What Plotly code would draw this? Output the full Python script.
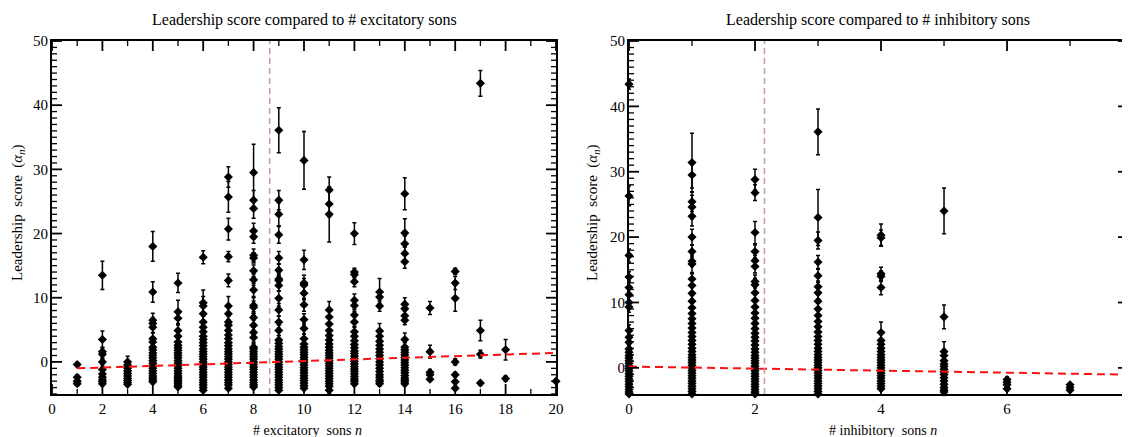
import math
import plotly.graph_objects as go

# ---------------- data: (alpha_n, error) per number of sons ----------------
exc_sons = [1, 2, 3, 4, 5, 6, 7, 8, 9, 10, 11, 12, 13, 14, 15, 16, 17, 18, 20]

exc_1 = [(-0.4, 0.3), (-2.4, 0.4), (-3.0, 0.3), (-3.4, 0.3)]
exc_2 = [(13.5, 2.2), (3.5, 1.3), (1.6, 0.7), (1.2, 0.6), (0.0, 0.5), (-1.2, 0.4), (-1.9, 0.4),
         (-2.4, 0.4), (-2.8, 0.3), (-3.1, 0.3), (-3.4, 0.3)]
exc_3 = [(0.0, 0.9), (-0.5, 0.5), (-1.0, 0.4), (-1.4, 0.4), (-1.8, 0.4), (-2.2, 0.3), (-2.6, 0.3),
         (-2.9, 0.3), (-3.2, 0.3), (-3.5, 0.3)]
exc_4 = [(18.0, 2.3), (10.9, 1.6), (6.5, 1.1), (6.0, 0.9), (5.4, 0.8), (3.6, 0.9), (3.1, 0.7),
         (2.3, 0.6), (1.9, 0.6), (1.4, 0.5), (1.0, 0.5), (0.6, 0.5), (0.2, 0.4), (-0.2, 0.4),
         (-0.6, 0.4), (-1.0, 0.4), (-1.4, 0.4), (-1.8, 0.4), (-2.2, 0.3), (-2.5, 0.3), (-2.8, 0.3),
         (-3.1, 0.3)]
exc_5 = [(12.3, 1.5), (7.8, 1.8), (6.8, 1.0), (4.9, 0.9), (4.0, 0.8), (3.1, 0.7), (2.6, 0.6),
         (2.2, 0.6), (1.8, 0.5), (1.4, 0.5), (1.0, 0.5), (0.6, 0.5), (0.2, 0.4), (-0.2, 0.4),
         (-0.6, 0.4), (-1.0, 0.4), (-1.4, 0.4), (-1.8, 0.4), (-2.2, 0.4), (-2.5, 0.3), (-2.8, 0.3),
         (-3.1, 0.3), (-3.4, 0.3), (-3.7, 0.3), (-3.9, 0.3)]
exc_6 = [(16.3, 1.0), (9.2, 2.0), (8.7, 1.5), (7.5, 1.2), (6.2, 1.0), (5.4, 0.9), (4.7, 0.8),
         (4.0, 0.7), (3.5, 0.7), (3.0, 0.6), (2.5, 0.6), (2.0, 0.6), (1.6, 0.5), (1.2, 0.5),
         (0.8, 0.5), (0.4, 0.5), (0.0, 0.4), (-0.4, 0.4), (-0.8, 0.4), (-1.2, 0.4), (-1.6, 0.4),
         (-2.0, 0.4), (-2.4, 0.4), (-2.8, 0.3), (-3.2, 0.3), (-3.6, 0.3), (-4.0, 0.3), (-4.4, 0.3)]
exc_7 = [(28.8, 1.6), (25.7, 2.4), (20.7, 1.7), (16.4, 0.8), (12.7, 1.0), (8.7, 1.5), (7.5, 1.2),
         (6.2, 1.0), (5.7, 0.9), (4.9, 0.8), (4.2, 0.7), (3.6, 0.7), (3.0, 0.6), (2.5, 0.6),
         (2.0, 0.6), (1.6, 0.5), (1.2, 0.5), (0.8, 0.5), (0.4, 0.5), (0.0, 0.4), (-0.4, 0.4),
         (-0.8, 0.4), (-1.2, 0.4), (-1.6, 0.4), (-2.0, 0.4), (-2.4, 0.4), (-2.8, 0.3), (-3.2, 0.3),
         (-3.6, 0.3), (-4.1, 0.3)]
exc_8 = [(29.5, 4.4), (25.2, 1.5), (23.9, 1.5), (20.4, 1.2), (19.5, 1.0), (16.6, 1.0), (16.2, 0.8),
         (14.2, 0.9), (12.8, 0.9), (11.2, 1.0), (8.8, 1.2), (8.5, 1.0), (6.9, 0.9), (5.7, 0.8),
         (4.6, 0.8), (3.8, 0.7), (2.3, 0.6), (2.0, 0.6), (1.6, 0.5), (1.2, 0.5), (0.8, 0.5),
         (0.4, 0.5), (0.0, 0.4), (-0.4, 0.4), (-0.8, 0.4), (-1.2, 0.4), (-1.6, 0.4), (-2.0, 0.4),
         (-2.4, 0.4), (-2.8, 0.3), (-3.2, 0.3), (-3.6, 0.3), (-3.9, 0.3)]
exc_9 = [(36.1, 3.5), (25.2, 1.5), (23.0, 1.8), (19.8, 1.3), (16.2, 1.0), (14.3, 1.0), (12.9, 0.8),
         (12.7, 0.8), (11.9, 0.9), (9.9, 1.2), (8.1, 1.0), (6.2, 0.9), (4.9, 0.8), (3.4, 0.7),
         (2.9, 0.6), (2.4, 0.6), (2.0, 0.6), (1.6, 0.5), (1.2, 0.5), (0.8, 0.5), (0.4, 0.5),
         (0.0, 0.4), (-0.4, 0.4), (-0.8, 0.4), (-1.2, 0.4), (-1.6, 0.4), (-2.0, 0.4), (-2.4, 0.4),
         (-2.8, 0.3), (-3.2, 0.3), (-3.6, 0.3), (-4.0, 0.3), (-4.4, 0.3)]
exc_10 = [(31.4, 4.5), (15.9, 1.5), (12.3, 1.2), (12.0, 1.0), (10.7, 1.0), (8.9, 1.0), (6.6, 0.9),
          (5.2, 0.8), (3.6, 0.7), (2.8, 0.6), (2.3, 0.6), (1.9, 0.6), (1.5, 0.5), (1.1, 0.5),
          (0.7, 0.5), (0.3, 0.5), (-0.1, 0.4), (-0.5, 0.4), (-0.9, 0.4), (-1.3, 0.4), (-1.7, 0.4),
          (-2.1, 0.4), (-2.5, 0.4), (-2.9, 0.3), (-3.3, 0.3), (-3.7, 0.3), (-4.1, 0.3)]
exc_11 = [(26.8, 2.0), (24.6, 2.0), (23.0, 4.3), (8.1, 1.3), (7.0, 1.0), (5.9, 0.9), (4.9, 0.8),
          (4.1, 0.7), (3.4, 0.7), (2.8, 0.6), (2.3, 0.6), (1.8, 0.6), (1.4, 0.5), (1.0, 0.5),
          (0.6, 0.5), (0.2, 0.4), (-0.2, 0.4), (-0.6, 0.4), (-1.0, 0.4), (-1.4, 0.4), (-1.8, 0.4),
          (-2.2, 0.4), (-2.6, 0.3), (-3.0, 0.3), (-3.4, 0.3), (-3.8, 0.3), (-4.4, 0.5)]
exc_12 = [(20.0, 1.7), (14.0, 0.6), (13.6, 0.5), (12.5, 0.8), (9.6, 1.0), (8.8, 0.9), (7.3, 0.9),
          (6.2, 0.8), (4.7, 0.8), (4.0, 0.7), (3.3, 0.6), (2.7, 0.6), (2.2, 0.6), (1.7, 0.5),
          (1.3, 0.5), (0.9, 0.5), (0.5, 0.5), (0.1, 0.4), (-0.3, 0.4), (-0.7, 0.4), (-1.1, 0.4),
          (-1.5, 0.4), (-1.9, 0.4), (-2.3, 0.3), (-2.7, 0.3), (-3.0, 0.3), (-3.4, 0.3)]
exc_13 = [(10.9, 2.1), (10.1, 1.0), (8.7, 0.8), (4.8, 1.2), (4.0, 0.8), (3.2, 0.7), (2.6, 0.6),
          (2.0, 0.6), (1.5, 0.5), (1.0, 0.5), (0.5, 0.5), (0.0, 0.4), (-0.5, 0.4), (-1.0, 0.4),
          (-1.5, 0.4), (-2.0, 0.4), (-2.4, 0.3), (-2.8, 0.3), (-3.1, 0.3), (-3.4, 0.3)]
exc_14 = [(26.2, 2.5), (20.1, 2.2), (18.4, 1.2), (16.9, 1.0), (15.6, 1.0), (9.0, 1.0), (8.3, 0.8),
          (7.2, 0.8), (6.5, 0.7), (3.5, 1.0), (2.3, 0.7), (1.9, 0.6), (1.5, 0.5), (1.1, 0.5),
          (0.7, 0.5), (0.3, 0.5), (-0.1, 0.4), (-0.5, 0.4), (-0.9, 0.4), (-1.3, 0.4), (-1.7, 0.4),
          (-2.1, 0.4), (-2.5, 0.3), (-2.8, 0.3), (-3.1, 0.3), (-3.4, 0.3)]
exc_15 = [(8.4, 1.0), (1.6, 1.0), (-1.6, 0.4), (-2.0, 0.4), (-2.7, 0.3)]
exc_16 = [(14.1, 0.5), (12.3, 1.0), (9.9, 2.0), (0.0, 0.5), (-2.0, 0.4), (-3.1, 0.3), (-4.1, 0.3)]
exc_17 = [(43.4, 2.0), (4.9, 1.6), (1.2, 0.6), (-3.3, 0.3)]
exc_18 = [(1.9, 1.6), (-2.6, 0.4)]
exc_20 = [(-3.0, 0.3)]

inh_sons = [0, 1, 2, 3, 4, 5, 6, 7]

inh_0 = [(43.4, 0.8), (26.3, 1.5), (17.2, 1.0), (13.9, 0.8), (12.3, 1.0), (11.2, 0.9), (10.0, 0.9),
         (9.3, 0.8), (5.7, 0.9), (4.7, 0.8), (3.9, 0.7), (2.9, 0.6), (2.4, 0.6), (1.9, 0.5),
         (1.5, 0.5), (1.1, 0.5), (0.7, 0.5), (0.3, 0.4), (-0.1, 0.4), (-0.5, 0.4), (-0.9, 0.4),
         (-1.3, 0.4), (-1.7, 0.4), (-2.1, 0.4), (-2.5, 0.3), (-2.9, 0.3), (-3.3, 0.3), (-3.7, 0.3),
         (-4.0, 0.3)]
inh_1 = [(31.4, 4.5), (29.5, 2.0), (25.4, 1.5), (24.6, 1.8), (23.2, 1.5), (20.0, 1.2), (17.8, 1.0),
         (16.3, 0.8), (15.9, 1.5), (13.6, 1.0), (12.6, 1.0), (11.4, 0.9), (10.2, 1.0), (9.2, 0.9),
         (8.3, 0.9), (7.5, 0.8), (6.8, 0.8), (6.1, 0.8), (5.4, 0.7), (4.8, 0.7), (4.2, 0.7),
         (3.6, 0.6), (3.0, 0.6), (2.5, 0.6), (2.0, 0.5), (1.6, 0.5), (1.2, 0.5), (0.8, 0.5),
         (0.4, 0.4), (0.0, 0.4), (-0.4, 0.4), (-0.8, 0.4), (-1.2, 0.4), (-1.6, 0.4), (-2.0, 0.4),
         (-2.4, 0.3), (-2.8, 0.3), (-3.2, 0.3), (-3.6, 0.3), (-4.0, 0.3)]
inh_2 = [(28.8, 1.6), (26.8, 1.2), (20.7, 1.7), (17.8, 1.0), (16.4, 0.8), (15.5, 1.0), (13.2, 1.0),
         (12.7, 1.0), (11.5, 0.9), (10.3, 0.9), (9.3, 0.9), (8.4, 0.9), (7.6, 0.8), (6.8, 0.8),
         (6.0, 0.8), (5.3, 0.7), (4.7, 0.7), (4.1, 0.7), (3.5, 0.6), (2.9, 0.6), (2.4, 0.6),
         (1.9, 0.5), (1.5, 0.5), (1.1, 0.5), (0.7, 0.5), (0.3, 0.4), (-0.1, 0.4), (-0.5, 0.4),
         (-0.9, 0.4), (-1.3, 0.4), (-1.7, 0.4), (-2.1, 0.4), (-2.5, 0.3), (-2.9, 0.3), (-3.3, 0.3),
         (-3.7, 0.3), (-4.0, 0.3)]
inh_3 = [(36.1, 3.5), (23.0, 4.3), (19.5, 1.3), (16.2, 1.0), (14.1, 1.0), (12.4, 0.9), (11.5, 1.0),
         (10.2, 1.0), (9.0, 0.9), (8.0, 0.9), (7.1, 0.8), (6.3, 0.8), (5.5, 0.7), (4.8, 0.7),
         (4.2, 0.7), (3.6, 0.6), (3.0, 0.6), (2.5, 0.6), (2.0, 0.5), (1.6, 0.5), (1.2, 0.5),
         (0.8, 0.5), (0.4, 0.4), (0.0, 0.4), (-0.4, 0.4), (-0.8, 0.4), (-1.2, 0.4), (-1.6, 0.4),
         (-2.0, 0.4), (-2.4, 0.3), (-2.8, 0.3), (-3.2, 0.3), (-3.6, 0.3), (-4.0, 0.3)]
inh_4 = [(20.3, 1.7), (19.9, 1.2), (14.4, 1.0), (14.0, 0.8), (12.3, 1.1), (5.4, 1.6), (4.2, 0.9),
         (3.6, 0.7), (3.0, 0.6), (2.5, 0.6), (2.0, 0.6), (1.6, 0.5), (1.2, 0.5), (0.8, 0.5),
         (0.4, 0.4), (0.0, 0.4), (-0.4, 0.4), (-0.8, 0.4), (-1.2, 0.4), (-1.6, 0.4), (-2.0, 0.4),
         (-2.4, 0.3), (-2.8, 0.3), (-3.2, 0.3)]
inh_5 = [(24.0, 3.5), (7.8, 1.8), (2.5, 1.5), (1.9, 0.9), (1.1, 0.7), (0.6, 0.5), (0.2, 0.5),
         (-0.2, 0.4), (-0.6, 0.4), (-1.0, 0.4), (-1.5, 0.4), (-2.0, 0.4), (-2.5, 0.3), (-3.0, 0.3),
         (-3.4, 0.3), (-3.7, 0.3)]
inh_6 = [(-1.8, 0.4), (-2.2, 0.4), (-2.6, 0.3), (-3.2, 0.3)]
inh_7 = [(-2.6, 0.3), (-3.0, 0.3), (-3.4, 0.3)]

# linear fits and mean lines
exc_fit_n = [1, 20]
exc_fit_alpha = [-1.0, 1.4]
inh_fit_n = [0, 8]
inh_fit_alpha = [0.2, -1.05]
exc_mean_sons = 8.64
inh_mean_sons = 2.15

exc_range = [0, 20]
inh_range = [0, 7.92]
exc_alpha_range = [-5, 50]
inh_alpha_range = [-4, 50]

exc_columns = [exc_1, exc_2, exc_3, exc_4, exc_5, exc_6, exc_7, exc_8, exc_9, exc_10,
               exc_11, exc_12, exc_13, exc_14, exc_15, exc_16, exc_17, exc_18, exc_20]
inh_columns = [inh_0, inh_1, inh_2, inh_3, inh_4, inh_5, inh_6, inh_7]


def flatten(sons, columns):
    xs, ys, es = [], [], []
    for n, col in zip(sons, columns):
        for a, e in col:
            xs.append(n)
            ys.append(a)
            es.append(e)
    return xs, ys, es


# page offset of the figure inside the browser window (body margin)
OX, OY = 8, 8
W, H = 1130 - OX, 437 - OY
FONT = "Liberation Serif"


def px(x):
    return (x - OX) / W


def py(y):
    return 1 - (y - OY) / H


fig = go.Figure()

for sons, cols, xa, ya in [(exc_sons, exc_columns, "x", "y"), (inh_sons, inh_columns, "x2", "y2")]:
    xs, ys, es = flatten(sons, cols)
    fig.add_trace(go.Scatter(
        x=xs, y=ys, mode="markers", xaxis=xa, yaxis=ya, cliponaxis=False,
        marker=dict(symbol="diamond", size=7, color="black", line=dict(width=0)),
        error_y=dict(type="data", array=es, color="black", thickness=1.5, width=2),
        showlegend=False,
    ))

fig.add_trace(go.Scatter(x=exc_fit_n, y=exc_fit_alpha, mode="lines", xaxis="x", yaxis="y",
                         line=dict(color="#ff1010", width=2, dash="8px,5px"), showlegend=False))
fig.add_trace(go.Scatter(x=inh_fit_n, y=inh_fit_alpha, mode="lines", xaxis="x2", yaxis="y2",
                         line=dict(color="#ff1010", width=2, dash="8px,5px"), showlegend=False))

fig.add_shape(type="line", xref="x", yref="y domain", x0=exc_mean_sons, x1=exc_mean_sons, y0=0, y1=1,
              line=dict(color="#c99a9a", width=1.5, dash="6px,4px"))
fig.add_shape(type="line", xref="x2", yref="y2 domain", x0=inh_mean_sons, x1=inh_mean_sons, y0=0, y1=1,
              line=dict(color="#c99a9a", width=1.5, dash="6px,4px"))

# plot areas in window pixels
TOP, BOT = 41, 394
P1 = (52, 556)
P2 = (629, 1128)
ydom = [py(BOT), py(TOP)]
TF = dict(family=FONT, size=15, color="black")


def add_ticks(xa, ya, xrng, yrng, pw, ph):
    """Inside tick marks on all four sides (IDL style)."""
    for v in range(math.ceil(xrng[0]), math.floor(xrng[1]) + 1):
        L = 10 if v % 2 == 0 else 5
        wdt = 1.8 if v % 2 == 0 else 1.3
        for y0, y1 in [(0, L / ph), (1 - L / ph, 1)]:
            fig.add_shape(type="line", xref=xa, yref=ya + " domain", x0=v, x1=v, y0=y0, y1=y1,
                          line=dict(color="black", width=wdt), layer="above")
    for v in range(math.ceil(yrng[0]), math.floor(yrng[1]) + 1):
        L = 10 if v % 10 == 0 else 5
        wdt = 1.8 if v % 10 == 0 else 1.3
        for x0, x1 in [(0, L / pw), (1 - L / pw, 1)]:
            fig.add_shape(type="line", xref=xa + " domain", yref=ya, x0=x0, x1=x1, y0=v, y1=v,
                          line=dict(color="black", width=wdt), layer="above")


add_ticks("x", "y", exc_range, exc_alpha_range, P1[1] - P1[0], BOT - TOP)
add_ticks("x2", "y2", inh_range, inh_alpha_range, P2[1] - P2[0], BOT - TOP)


def xaxis_cfg(p, rng, anchor):
    return dict(domain=[px(p[0]), px(p[1])], range=rng, anchor=anchor, dtick=2, tick0=0, ticks="",
                showline=True, linewidth=2, linecolor="black", mirror=True,
                showgrid=False, zeroline=False, tickfont=TF, ticklabelstandoff=0)


def yaxis_cfg(rng, anchor):
    return dict(domain=ydom, range=rng, anchor=anchor, dtick=10, tick0=0, ticks="",
                showline=True, linewidth=2, linecolor="black", mirror=True,
                showgrid=False, zeroline=False, tickfont=TF, ticklabelstandoff=-1)


fig.update_layout(
    width=W, height=H, margin=dict(l=0, r=0, t=0, b=0, autoexpand=False),
    paper_bgcolor="white", plot_bgcolor="white", showlegend=False,
    font=dict(family=FONT, color="black"),
    xaxis=xaxis_cfg(P1, exc_range, "y"),
    yaxis=yaxis_cfg(exc_alpha_range, "x"),
    xaxis2=xaxis_cfg(P2, inh_range, "y2"),
    yaxis2=yaxis_cfg(inh_alpha_range, "x2"),
)

annots = [
    dict(text="Leadership score compared to # excitatory sons", x=px(304), y=py(20), size=16, angle=0),
    dict(text="Leadership score compared to # inhibitory sons", x=px(878), y=py(20), size=16, angle=0),
    dict(text="# excitatory  sons <i>n</i>", x=px(307), y=py(430), size=14, angle=0),
    dict(text="# inhibitory  sons <i>n</i>", x=px(883), y=py(430), size=14, angle=0),
    dict(text="Leadership  score  (<i>α<sub>n</sub></i>)", x=px(18), y=py(213), size=15, angle=-90),
    dict(text="Leadership  score  (<i>α<sub>n</sub></i>)", x=px(593), y=py(213), size=15, angle=-90),
]
for a in annots:
    fig.add_annotation(text=a["text"], x=a["x"], y=a["y"], xref="paper", yref="paper",
                       xanchor="center", yanchor="middle", showarrow=False, textangle=a["angle"],
                       font=dict(family=FONT, size=a["size"], color="black"))

fig.write_html("out.html")
